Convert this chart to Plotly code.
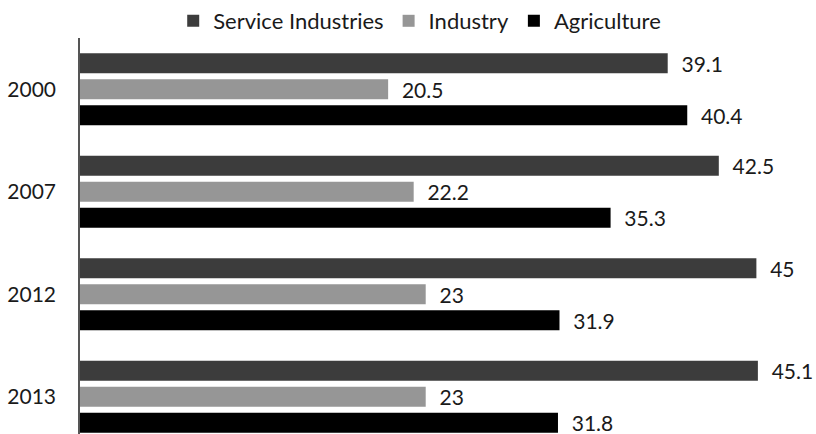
import plotly.graph_objects as go

# Employment share by sector (%)
years = ["2000", "2007", "2012", "2013"]
service = [39.1, 42.5, 45, 45.1]
industry = [20.5, 22.2, 23, 23]
agriculture = [40.4, 35.3, 31.9, 31.8]

series = [
    ("Service Industries", service, "#3c3c3c"),
    ("Industry", industry, "#969696"),
    ("Agriculture", agriculture, "#000000"),
]

FONT = "Lato"
PAD = "\u00a0\u00a0"

fig = go.Figure()
for name, vals, color in series:
    fig.add_trace(go.Bar(
        y=years,
        x=vals,
        name=name,
        orientation="h",
        marker=dict(color=color, line=dict(width=0)),
        text=[PAD + f"{v:g}" for v in vals],
        textposition="outside",
        constraintext="none",
        textfont=dict(family=FONT, size=21, color="#1a1a1a"),
        cliponaxis=False,
        hoverinfo="skip",
    ))

fig.update_layout(
    width=816,
    height=434,
    margin=dict(l=80, r=7, t=38, b=0),
    paper_bgcolor="white",
    plot_bgcolor="white",
    barmode="group",
    bargap=0.24,
    bargroupgap=0.23,
    font=dict(family=FONT, size=21, color="#1a1a1a"),
    showlegend=True,
    legend=dict(
        orientation="h",
        x=0.466,
        xanchor="center",
        y=1.044,
        yanchor="middle",
        font=dict(family=FONT, size=22, color="#1a1a1a"),
        traceorder="normal",
        bgcolor="rgba(0,0,0,0)",
    ),
    xaxis=dict(
        range=[0, 48.5],
        showgrid=False,
        zeroline=False,
        showticklabels=False,
        ticks="",
        showline=False,
    ),
    yaxis=dict(
        type="category",
        range=[3.364, -0.5],
        showgrid=False,
        zeroline=False,
        showline=True,
        linecolor="#555555",
        linewidth=1.5,
        ticks="",
        ticklabelstandoff=18,
        tickfont=dict(family=FONT, size=21, color="#1a1a1a"),
    ),
)

fig.write_html("out.html")
